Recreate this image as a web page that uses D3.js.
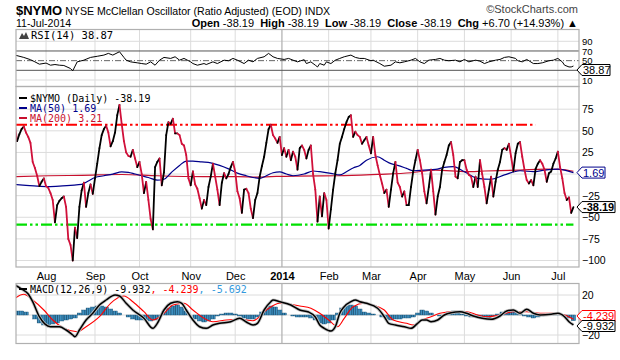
<!DOCTYPE html>
<html><head><meta charset="utf-8">
<script src="https://cdn.jsdelivr.net/npm/d3@7/dist/d3.min.js"></script>
<style>body{margin:0;background:#fff}svg{display:block}</style>
</head><body>
<svg id="c" width="620" height="360"></svg>
<script>
// ---------------- DATA ----------------
const firstDay = "2013-07-12", lastDay = "2014-07-11";
const holidays = ["2013-09-02","2013-11-28","2013-12-25","2014-01-01","2014-01-20","2014-02-17","2014-04-18","2014-05-26","2014-07-04"];
const monthLabels = ["2014","Feb","Mar","Apr","May","Jun","Jul","Aug","Sep","Oct","Nov","Dec"];

// $NYMO daily close, one value per trading day
const nymo = [57,38,46,52,55,48,43,36,14,7,-2,-14,-9,-5,-14,-16,-22,-30,-56,-36,
-31,-28,-26,-38,-75,-82,-100,-62,-74,-38,-19,-10,-38,-22,-12,-23,-5,12,30,45,
52,56,48,32,38,48,68,80,58,38,25,21,20,28,18,8,14,0,-22,-9,
-30,-52,-64,8,14,18,-13,2,45,60,58,64,47,47,45,35,33,22,-5,-13,
3,-12,-17,-28,-40,-30,-36,-15,-3,12,-3,-18,-36,-10,1,-5,0,8,14,3,
-20,-28,-45,-18,-17,-22,-40,-51,-30,-22,-3,9,20,36,52,57,45,41,36,43,
22,30,20,28,16,26,20,5,30,33,28,18,28,33,0,-18,-55,-26,-49,-22,
-30,-63,-41,-18,1,16,35,43,52,60,66,68,43,49,45,43,35,39,43,33,
24,43,22,10,-1,-11,-22,-18,-38,-18,1,14,-10,-15,-26,-20,-36,-36,-15,3,
16,28,16,1,-20,-34,-15,5,-20,-47,-26,-15,5,14,22,33,37,22,-3,-5,
14,16,16,5,-1,-3,-15,-3,-15,16,0,-15,-34,-18,-3,-26,-9,5,14,28,
30,28,35,20,3,24,35,37,20,5,-7,-11,-7,-13,6,12,16,12,5,-9,
1,3,12,18,26,8,-5,-22,-30,-27,-44.89,-38.19];

const ma50Day = [0,5,10,15,20,25,30,33,36,40,44,48,51,54,57,60,64,67,70,74,77,80,84,88,92,96,100,104,107,110,113,116,119,122,125,130,134,137,142,146,149,152,155,158,163,166,169,172,176,179,184,189,193,197,202,208,214,220,227,233,238,244,247,251];
const ma50Val = [-12,-13,-14,-14.5,-14,-13,-12,-8,-4,-2,0,2.5,2,0,-2,-4,-7,-6,1,10,15,15,14,13,10,6,1,-2,-4,-5,-2,1.5,2.5,0,-2,0,3.5,2.7,0.8,-1,2.7,7,10,16,20,16,12,10,6.5,3.8,4.6,5.4,7.7,8.5,2.7,-5,-6,-1,3.8,2.7,4.6,5.8,4.6,1.69];
const ma200Day = [0,15,30,48,64,85,100,109,115,125,145,163,178,189,203,211,227,238,245,251];
const ma200Val = [-3,-2,-1.5,-0.5,-2,-3,-3,-3.5,-3,-2.3,-2,-0.4,1.5,4.6,2.7,3.5,4.6,5.8,5.4,3.21];

const refLevels = [57, -58.5];      // red / green annotation lines
const refEndDay = [234, 251];

const rsiDay = [0,4,7,9,11,14,16,18,20,22,25,26,28,31,32,34,37,40,42,44,47,49,50,52,55,57,59,61,63,65,67,70,72,74,76,79,80,82,85,86,89,91,94,96,98,100,103,105,107,109,112,114,116,118,121,123,125,127,130,131,133,135,136,137,139,140,142,144,146,148,151,153,155,157,160,161,164,166,169,171,173,175,178,180,182,184,186,189,191,193,195,198,200,202,204,207,209,211,213,216,218,220,222,225,226,228,230,231,233,235,237,240,242,244,246,247,249,250,251];
const rsiVal = [61.5,56.7,52,47.5,42.7,45,40.6,42,40.6,40,33.7,29,47.5,51,53,56.7,59,61.5,65,61.5,68.4,56.7,51,47.5,45.5,44,42.7,47.5,40.6,51,56.7,54.6,58,51,54.6,47.5,44,40.6,44,42,47.5,44,51,49.8,54.6,51,44,51,47.5,54.6,58,65,58,54.6,52.5,54.6,51,47.5,52,44,47.5,40.6,37,44,40.6,47.5,44,51,54.6,58,61.5,56.7,54.6,54.6,49.8,51,44,38.5,40.6,47.5,45.5,47.5,51,54.6,47.5,44,51,52.5,54.6,51,49.8,51,47.5,52.5,47.5,51,49,44,47.5,51,52.5,56.7,58,54.6,49.8,47.5,52.5,49.8,44,44,45.5,49.8,51,54.6,47.5,40.6,37,37,38.87];

const macdDay = [0,3,6,8,11,16,20,23,26,27,29,32,35,38,41,45,47,50,53,58,62,64,67,70,73,75,77,80,83,86,89,92,97,101,104,107,109,112,115,116,119,124,128,132,135,137,139,142,144,146,148,151,153,155,158,163,166,168,171,175,178,181,183,185,187,190,193,196,200,203,206,210,214,218,221,224,227,230,233,236,241,244,247,249,251];
const macdVal = [30,26,21,13.3,-1.7,-11.7,-11.7,-15,-20,-21.7,-15,-5,1.7,10,15,20,19,11.7,5,-3.3,-13.3,-8.3,5,11.7,13.3,11.7,5,-5,-11.7,-13.3,-10,-8.3,-6.7,-3.3,-7,-10,-8.3,5,13.3,15,13.3,10,5,3,-2,-10,-13.3,-16,-11.7,1.7,8.3,13.3,15,13.3,11.7,6.7,-1.7,-8.3,-10,-11.7,-13.3,-8.3,-5,-5,-6.7,-5,0,2.3,3.3,1.7,-1,-3.3,-4.3,-1,4,5,1.7,5.7,1.7,0,0.7,1.7,-1.7,-6.7,-9.932];
const signalDay = [0,4,8,13,17,22,28,32,38,43,49,53,58,62,67,71,76,80,85,89,95,101,107,113,119,124,128,133,137,141,145,148,152,157,161,166,170,176,179,183,187,191,196,203,208,212,218,224,230,236,242,247,251];
const signalVal = [16.7,20.7,15,5,-5,-13.3,-16.7,-11.7,-1.7,11.7,19,13.3,3.3,-5,1.7,10,11.7,5,-3.3,-6.7,-5,-4.3,-5.7,5,11.7,10.7,9,6.7,1.7,-5,-11.7,-3.3,8.3,11.7,10,5,-5,-8.3,-10,-5,-1.7,1.7,3.3,3.3,0,-1.7,0,3.3,3.3,1.7,1.7,0,-4.239];
// histogram, one bar every second trading day (days 1,3,5,...,251)
const histVal = [4,4,3,0,-4,-8,-10,-10,-9,-8,-6,-5,-4,-3,2,5,7,8,9,9,8,6,4,2,0,-2,-4,-5,-5,-5,-6,-5,-2,3,7,9,10,8,4,0,-4,-6,-7,-6,-4,-1,1,2,2,1,-1,-3,-4,-4,-2,3,7,9,8,5,2,0,-1,-2,-2,-2,-3,-5,-8,-9,-8,-5,2,7,9,10,9,6,3,2,1,0,-2,-4,-5,-4,-4,-3,-3,-2,2,5,4,2,0,-1,0,3,4,3,1,-1,-2,-2,-3,-3,-3,-1,1,3,4,4,3,1,-1,-2,-3,-2,-1,0,1,1,1,-1,-3,-5.692];

// ---------------- LAYOUT ----------------
const svg = d3.select("#c");
const L = 16, R = 579;
const rsiP = {t:29.5, b:86.5}, mainP = {t:86.5, b:267}, macdP = {t:283.5, b:343.5};
const FONT = "Liberation Sans, Arial, sans-serif", MONO = "DejaVu Sans Mono, monospace";
const UP = "#000", DOWN = "#d0103a";

// trading calendar
const parse = d3.utcParse("%Y-%m-%d"), fmt = d3.utcFormat("%Y-%m-%d");
const hol = new Set(holidays);
const dates = d3.utcDays(parse(firstDay), d3.utcDay.offset(parse(lastDay),1))
  .filter(d => d.getUTCDay()%6 !== 0 && !hol.has(fmt(d)));
const monthIdx = [];
dates.forEach((d,i)=>{ if(i>0 && d.getUTCMonth()!==dates[i-1].getUTCMonth()) monthIdx.push(i); });
const isYear = i => dates[i].getUTCMonth()===0;

const x = d3.scaleLinear().domain([0.5, 253.5]).range([L, R]);
const yRsi = d3.scaleLinear().domain([10,90]).range([80, 41.3]);
const yMain = d3.scaleLinear().domain([-100,75]).range([260.5, 109.2]);
const yMacd = d3.scaleLinear().domain([-20,20]).range([335, 295]);

const defs = svg.append("defs");
function clip(id,p){ defs.append("clipPath").attr("id",id).append("rect").attr("x",L).attr("y",p.t).attr("width",R-L).attr("height",p.b-p.t); }
clip("cr",rsiP); clip("cm",mainP); clip("cd",macdP);
const pat = defs.append("pattern").attr("id","hp").attr("patternUnits","userSpaceOnUse")
  .attr("x", x(0)).attr("width", x(1)-x(0)).attr("height",10);
pat.append("rect").attr("width",x(1)-x(0)).attr("height",10).attr("fill","#3f90c0");
pat.append("rect").attr("width",0.7).attr("height",10).attr("fill","#1d5578");

function panelGrid(p, y, ticks){
  const g = svg.append("g");
  g.selectAll(".h").data(ticks).join("line").attr("x1",L).attr("x2",R)
    .attr("y1",d=>y(d)).attr("y2",d=>y(d)).attr("stroke","#dcdcdc");
  g.selectAll(".v").data(monthIdx).join("line").attr("x1",d=>x(d)).attr("x2",d=>x(d))
    .attr("y1",p.t).attr("y2",p.b).attr("stroke",d=>isYear(d)?"#b4b4b4":"#dcdcdc").attr("stroke-width",d=>isYear(d)?1.3:1);
  return g;
}
function panelBorder(p){
  svg.append("rect").attr("x",L).attr("y",p.t).attr("width",R-L).attr("height",p.b-p.t)
    .attr("fill","none").attr("stroke","#b0b0b0").attr("stroke-width",1.2);
}
function rightAxis(y, ticks, fs){
  const ax = d3.axisRight(y).tickValues(ticks).tickSize(0).tickPadding(3).tickFormat(d3.format("d"));
  const g = svg.append("g").attr("transform",`translate(${R},0)`).call(ax);
  g.select(".domain").remove();
  g.selectAll("text").attr("font-family",FONT).attr("font-size",fs).attr("fill","#000");
}
function bottomAxis(yPos){
  const ax = d3.axisBottom(x).tickValues(monthIdx).tickSize(0).tickPadding(0)
    .tickFormat(i => monthLabels[dates[i].getUTCMonth()]);
  const g = svg.append("g").attr("transform",`translate(0,${yPos})`).call(ax);
  g.select(".domain").remove();
  g.selectAll("text").attr("font-family",FONT).attr("font-size",11).attr("fill","#000")
    .attr("font-weight", i => isYear(i) ? "bold":"normal");
}
function tag(yc, text, color, bold, w){
  const g = svg.append("g").attr("transform",`translate(577,${yc})`);
  g.append("path").attr("d",`M0,0L5,-5.5H${w}V5.5H5Z`).attr("fill","#fff").attr("stroke",color).attr("stroke-width",1);
  g.append("text").attr("x",6).attr("y",4).text(text).attr("font-family",FONT).attr("font-size",11)
    .attr("font-weight",bold?"bold":"normal").attr("fill",color);
}
const lineGen = (y) => d3.line().x(d=>x(d[0])).y(d=>y(d[1]));

// ---------------- HEADER ----------------
const h1 = svg.append("text").attr("x",16).attr("y",14.5).attr("font-family",FONT);
h1.append("tspan").text("$NYMO").attr("font-weight","bold").attr("font-size",13);
h1.append("tspan").text(" NYSE McClellan Oscillator (Ratio Adjusted) (EOD) INDX").attr("font-size",10.6);
svg.append("text").attr("x",578).attr("y",13).attr("text-anchor","end").attr("font-family",FONT)
  .attr("font-size",11).attr("fill","#444").text("\u00A9StockCharts.com");
svg.append("text").attr("x",16).attr("y",26.5).attr("font-family",FONT).attr("font-size",10.6).text("11-Jul-2014");
const h2 = svg.append("text").attr("x",578).attr("y",26.5).attr("text-anchor","end").attr("font-family",FONT).attr("font-size",11).style("white-space","pre");
[["Open"," -38.19  "],["High"," -38.19  "],["Low"," -38.19  "],["Close"," -38.19  "],["Chg"," +6.70 (+14.93%) \u25B2"]]
  .forEach(([a,b])=>{ h2.append("tspan").text(a).attr("font-weight","bold"); h2.append("tspan").text(b); });

// ---------------- RSI PANEL ----------------
panelGrid(rsiP, yRsi, [90,10]);
const gr = svg.append("g").attr("clip-path","url(#cr)");
gr.selectAll(".lv").data([70,30]).join("line").attr("x1",L).attr("x2",R).attr("y1",d=>yRsi(d)).attr("y2",d=>yRsi(d)).attr("stroke","#555");
gr.append("line").attr("x1",L).attr("x2",R).attr("y1",yRsi(50)).attr("y2",yRsi(50)).attr("stroke","#666").attr("stroke-dasharray","6,2,1,2");
gr.append("path").datum(d3.zip(rsiDay,rsiVal)).attr("d",lineGen(yRsi)).attr("fill","none").attr("stroke","#000").attr("stroke-width",1);
panelBorder(rsiP);
rightAxis(yRsi,[90,70,50,10], 9.5);
svg.append("path").attr("d","M19,39L22,33L24,36L26,32L29,39Z").attr("fill","#444");
svg.append("text").attr("x",31).attr("y",39).attr("font-family",MONO).attr("font-size",10.5).text("RSI(14) 38.87");
tag(70, "38.87", "#000", false, 33);

// ---------------- MAIN PANEL ----------------
panelGrid(mainP, yMain, [75,50,25,0,-25,-50,-75,-100]);
const gm = svg.append("g").attr("clip-path","url(#cm)");
gm.selectAll(".ref").data(refLevels).join("line")
  .attr("x1",L).attr("x2",(d,i)=>x(refEndDay[i])).attr("y1",d=>yMain(d)).attr("y2",d=>yMain(d))
  .attr("stroke",(d,i)=> i===0 ? "#ff0000" : "#00e000").attr("stroke-width",2.2)
  .attr("stroke-dasharray","11,3,2.5,3,2.5,3");
gm.append("path").datum(d3.zip(ma200Day,ma200Val)).attr("d",lineGen(yMain).curve(d3.curveMonotoneX)).attr("fill","none").attr("stroke","#c8102e").attr("stroke-width",1.2);
gm.append("path").datum(d3.zip(ma50Day,ma50Val)).attr("d",lineGen(yMain).curve(d3.curveMonotoneX)).attr("fill","none").attr("stroke","#00008b").attr("stroke-width",1.2);
gm.selectAll(".seg").data(d3.pairs(nymo.map((v,i)=>[i,v]))).join("line")
  .attr("x1",d=>x(d[0][0])).attr("y1",d=>yMain(d[0][1])).attr("x2",d=>x(d[1][0])).attr("y2",d=>yMain(d[1][1]))
  .attr("stroke",d=> d[1][1] >= d[0][1] ? UP : DOWN).attr("stroke-width",1.8).attr("stroke-linecap","round");
panelBorder(mainP);
rightAxis(yMain,[75,50,25,-25,-50,-75,-100], 10.5);
const leg = [["$NYMO (Daily) -38.19","#000"],["MA(50) 1.69","#00008b"],["MA(200) 3.21","#c8102e"]];
leg.forEach(([t,c],k)=>{
  const yy = 101.5 + k*10;
  svg.append("line").attr("x1",19).attr("x2",27).attr("y1",yy-3.5).attr("y2",yy-3.5).attr("stroke",c).attr("stroke-width",2);
  svg.append("text").attr("x",30).attr("y",yy).attr("font-family",MONO).attr("font-size",10).attr("fill",c).text(t);
});
tag(yMain(1.69), "1.69", "#00008b", false, 28);
tag(yMain(-38.19), "-38.19", "#000", true, 38);
bottomAxis(272);

// ---------------- MACD PANEL ----------------
panelGrid(macdP, yMacd, [20,0,-20]);
const gd = svg.append("g").attr("clip-path","url(#cd)");
const histDay = histVal.map((v,k)=>2*k+1);
gd.selectAll(".hb").data(d3.zip(histDay,histVal)).join("rect")
  .attr("x",d=>x(d[0]-1)).attr("width",x(2)-x(0))
  .attr("y",d=>yMacd(Math.max(0,d[1]))).attr("height",d=>Math.abs(yMacd(d[1])-yMacd(0)))
  .attr("fill","url(#hp)").attr("stroke","#1d5578").attr("stroke-width",0.4);
gd.append("path").datum(d3.zip(signalDay,signalVal)).attr("d",lineGen(yMacd).curve(d3.curveMonotoneX)).attr("fill","none").attr("stroke","#ff0000").attr("stroke-width",1.1);
const macdPts = d3.zip(macdDay,macdVal);
gd.append("path").datum(macdPts).attr("d",lineGen(yMacd).curve(d3.curveMonotoneX)).attr("fill","none").attr("stroke","#c4c4c4").attr("stroke-width",3.2);
gd.append("path").datum(macdPts).attr("d",lineGen(yMacd).curve(d3.curveMonotoneX)).attr("fill","none").attr("stroke","#000").attr("stroke-width",1.5);
panelBorder(macdP);
rightAxis(yMacd,[20,-20], 10.5);
svg.append("line").attr("x1",19).attr("x2",27).attr("y1",289).attr("y2",289).attr("stroke","#000").attr("stroke-width",2);
const ml = svg.append("text").attr("x",30).attr("y",292.5).attr("font-family",MONO).attr("font-size",10);
ml.append("tspan").text("MACD(12,26,9) -9.932").attr("fill","#000");
ml.append("tspan").text(", -4.239").attr("fill","#ff0000");
ml.append("tspan").text(", -5.692").attr("fill","#3399dd");
tag(316, "-4.239", "#ff0000", false, 38);
tag(326, "-9.932", "#000", false, 38);
</script>
</body></html>
